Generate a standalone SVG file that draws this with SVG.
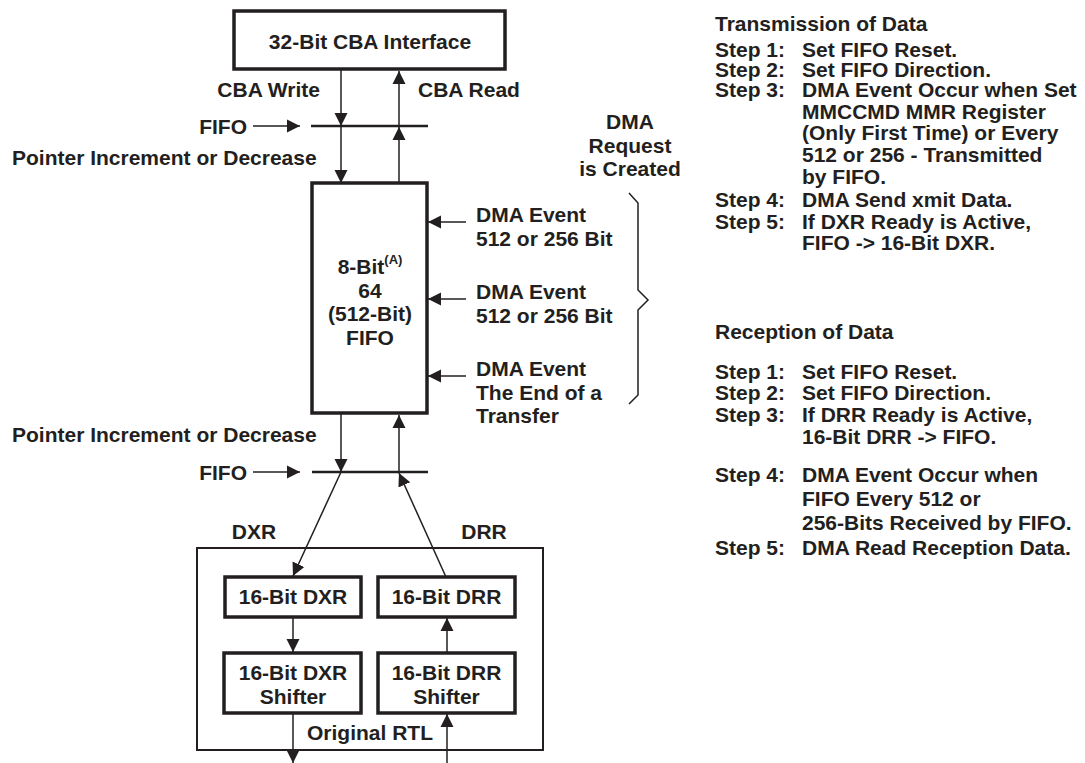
<svg xmlns="http://www.w3.org/2000/svg" width="1085" height="763" viewBox="0 0 1085 763">
<style>
text{font-family:"Liberation Sans",Arial,sans-serif;font-weight:bold;font-size:21px;fill:#231f20}
.c{text-anchor:middle}
.e{text-anchor:end}
.box{fill:#fff;stroke:#231f20;stroke-width:3.5}
.outer{fill:none;stroke:#231f20;stroke-width:2}
.bar{stroke:#231f20;stroke-width:2.5}
.ln{stroke:#231f20;stroke-width:1.5;fill:none}
.arr{marker-end:url(#ah)}
</style>
<defs>
<marker id="ah" markerUnits="userSpaceOnUse" markerWidth="14" markerHeight="14" refX="13" refY="7" orient="auto">
<path d="M0,0.5 L13,7 L0,13.5 z" fill="#231f20"/>
</marker>
</defs>
<rect width="1085" height="763" fill="#fff"/>

<g id="cba-interface">
<rect class="box" x="234" y="11" width="271" height="58"/>
<text class="c" x="370" y="49">32-Bit CBA Interface</text>
</g>

<g id="fifo">
<rect class="box" x="312" y="183" width="115" height="230"/>
<text class="c" x="370" y="274">8-Bit<tspan font-size="13" dy="-10">(A)</tspan></text>
<text class="c" x="370" y="297.5">64</text>
<text class="c" x="370" y="321">(512-Bit)</text>
<text class="c" x="370" y="344.5">FIFO</text>
</g>

<g id="fifo-pointer-top">
<line class="bar" x1="311" y1="126" x2="428" y2="126"/>
</g>
<g id="fifo-pointer-bottom">
<line class="bar" x1="312" y1="472" x2="428" y2="472"/>
</g>

<g id="original-rtl">
<rect class="outer" x="197" y="548" width="346" height="202"/>
<text class="c" x="370" y="740">Original RTL</text>
</g>

<g id="dxr">
<rect class="box" x="225" y="577" width="136" height="40"/>
<text class="c" x="293" y="604">16-Bit DXR</text>
</g>
<g id="drr">
<rect class="box" x="378" y="577" width="137" height="40"/>
<text class="c" x="446.5" y="604">16-Bit DRR</text>
</g>
<g id="dxr-shifter">
<rect class="box" x="224" y="653" width="137" height="60"/>
<text class="c" x="293" y="680">16-Bit DXR</text>
<text class="c" x="293" y="704">Shifter</text>
</g>
<g id="drr-shifter">
<rect class="box" x="378" y="653" width="137" height="60"/>
<text class="c" x="446.5" y="680">16-Bit DRR</text>
<text class="c" x="446.5" y="704">Shifter</text>
</g>

<g id="connectors">
<line class="ln arr" x1="341" y1="69" x2="341" y2="126"/>
<line class="ln arr" x1="341" y1="126" x2="341" y2="183"/>
<line class="ln arr" x1="399" y1="183" x2="399" y2="127"/>
<line class="ln arr" x1="399" y1="126" x2="399" y2="71"/>
<line class="ln arr" x1="253" y1="126" x2="300" y2="126"/>
<line class="ln arr" x1="466" y1="222" x2="428" y2="222"/>
<line class="ln arr" x1="466" y1="299" x2="428" y2="299"/>
<line class="ln arr" x1="466" y1="376" x2="428" y2="376"/>
<line class="ln arr" x1="341" y1="413" x2="341" y2="472"/>
<line class="ln arr" x1="399" y1="472" x2="399" y2="415"/>
<line class="ln arr" x1="253" y1="472" x2="300" y2="472"/>
<line class="ln arr" x1="341" y1="472" x2="293" y2="576"/>
<line class="ln arr" x1="446" y1="577" x2="399" y2="473"/>
<line class="ln arr" x1="293" y1="617" x2="293" y2="652"/>
<line class="ln arr" x1="447" y1="653" x2="447" y2="618"/>
<line class="ln arr" x1="293" y1="713" x2="293" y2="763"/>
<line class="ln arr" x1="447" y1="763" x2="447" y2="714"/>
<path class="ln" d="M629,193 L638,203 L638,290 L648,300 L638,310 L638,395 L629,404"/>
</g>

<g id="labels">
<text class="e" x="320" y="97">CBA Write</text>
<text x="418" y="97">CBA Read</text>
<text class="e" x="247" y="133.5">FIFO</text>
<text x="12" y="165">Pointer Increment or Decrease</text>
<text class="e" x="247" y="479.5">FIFO</text>
<text x="12" y="442">Pointer Increment or Decrease</text>
<text class="c" x="630" y="129">DMA</text>
<text class="c" x="630" y="152.5">Request</text>
<text class="c" x="630" y="176">is Created</text>
<text x="476" y="222">DMA Event</text>
<text x="476" y="245.5">512 or 256 Bit</text>
<text x="476" y="299">DMA Event</text>
<text x="476" y="322.5">512 or 256 Bit</text>
<text x="476" y="376">DMA Event</text>
<text x="476" y="399.5">The End of a</text>
<text x="476" y="423">Transfer</text>
<text class="c" x="254" y="539">DXR</text>
<text class="c" x="484" y="539">DRR</text>
</g>

<g id="transmission-notes">
<text x="715" y="31">Transmission of Data</text>
<text x="715" y="57">Step 1:</text><text x="802" y="57">Set FIFO Reset.</text>
<text x="715" y="77">Step 2:</text><text x="802" y="77">Set FIFO Direction.</text>
<text x="715" y="97">Step 3:</text><text x="802" y="97">DMA Event Occur when Set</text>
<text x="802" y="119">MMCCMD MMR Register</text>
<text x="802" y="140">(Only First Time) or Every</text>
<text x="802" y="162">512 or 256 - Transmitted</text>
<text x="802" y="184">by FIFO.</text>
<text x="715" y="207">Step 4:</text><text x="802" y="207">DMA Send xmit Data.</text>
<text x="715" y="229">Step 5:</text><text x="802" y="229">If DXR Ready is Active,</text>
<text x="802" y="250">FIFO -&gt; 16-Bit DXR.</text>
</g>

<g id="reception-notes">
<text x="715" y="339">Reception of Data</text>
<text x="715" y="379">Step 1:</text><text x="802" y="379">Set FIFO Reset.</text>
<text x="715" y="400">Step 2:</text><text x="802" y="400">Set FIFO Direction.</text>
<text x="715" y="422">Step 3:</text><text x="802" y="422">If DRR Ready is Active,</text>
<text x="802" y="444">16-Bit DRR -&gt; FIFO.</text>
<text x="715" y="482">Step 4:</text><text x="802" y="482">DMA Event Occur when</text>
<text x="802" y="506">FIFO Every 512 or</text>
<text x="802" y="530">256-Bits Received by FIFO.</text>
<text x="715" y="555">Step 5:</text><text x="802" y="555">DMA Read Reception Data.</text>
</g>
</svg>
